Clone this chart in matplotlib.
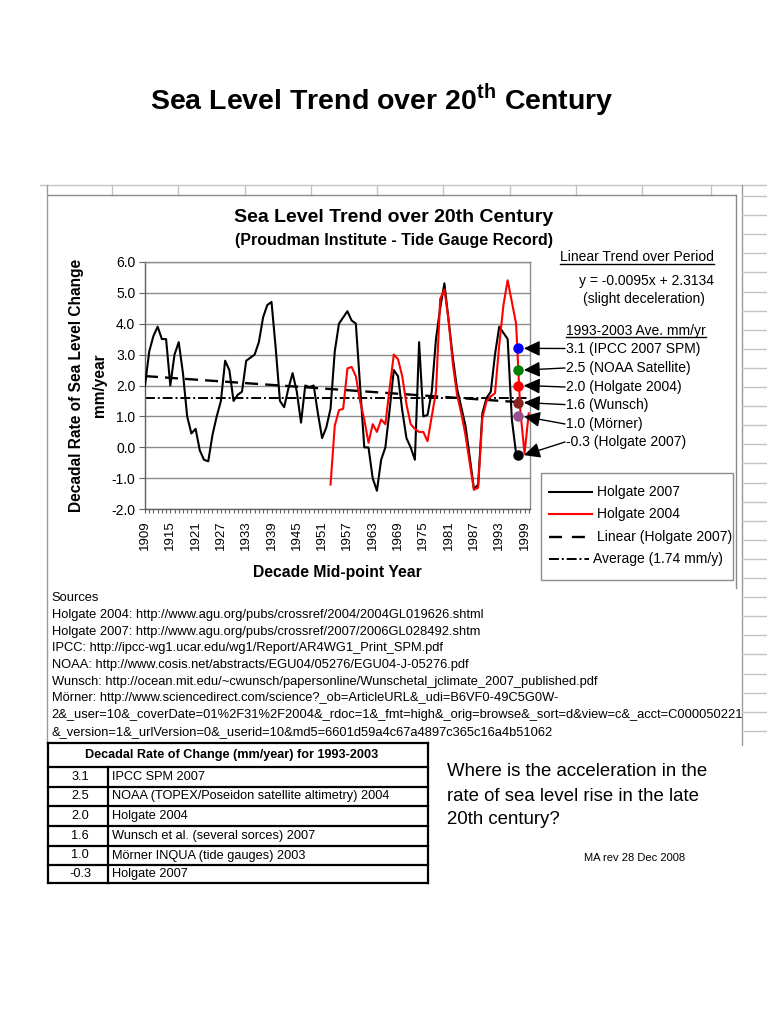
import matplotlib
matplotlib.use('Agg')
import matplotlib.pyplot as plt
from matplotlib.lines import Line2D
from matplotlib.patches import Rectangle
import numpy as np

plt.rcParams['font.family'] = ['Liberation Sans', 'DejaVu Sans']
plt.rcParams['mathtext.fontset'] = 'custom'
plt.rcParams['mathtext.rm'] = 'Liberation Sans'
plt.rcParams['mathtext.bf'] = 'Liberation Sans:bold'

# ---------------- data ----------------
years_h07 = list(range(1909, 1998))
holgate2007 = [2.0, 3.1, 3.6, 3.9, 3.5, 3.5, 2.0, 3.0, 3.4, 2.4,
               1.0, 0.45, 0.6, -0.1, -0.4, -0.45, 0.4, 1.0, 1.5, 2.8,
               2.5, 1.5, 1.7, 1.8, 2.8, 2.9, 3.0, 3.4, 4.2, 4.6,
               4.7, 3.2, 1.5, 1.3, 1.9, 2.4, 1.8, 0.8, 2.0, 1.95,
               2.0, 1.1, 0.3, 0.65, 1.25, 3.1, 4.0, 4.2, 4.4, 4.1,
               4.0, 2.0, 0.0, 0.0, -1.0, -1.4, -0.4, 0.0, 1.2, 2.5,
               2.3, 1.2, 0.3, 0.0, -0.4, 3.4, 1.0, 1.05, 1.8, 3.5,
               4.5, 5.3, 4.1, 2.9, 1.9, 1.3, 0.7, -0.3, -1.35, -1.2,
               1.1, 1.6, 1.8, 3.0, 3.9, 3.7, 3.5, 0.9, -0.2]
years_h04 = list(range(1953, 2001))
holgate2004 = [-1.2, 0.7, 1.2, 1.25, 2.55, 2.6, 2.3, 1.5, 0.9, 0.15,
               0.75, 0.5, 0.9, 0.75, 1.9, 3.0, 2.85, 2.3, 1.4, 0.75,
               0.6, 0.5, 0.5, 0.2, 1.0, 1.8, 4.8, 5.1, 4.1, 2.7,
               1.7, 1.1, 0.4, -0.5, -1.37, -1.3, 0.95, 1.5, 1.65, 1.75,
               3.3, 4.6, 5.4, 4.7, 4.0, 1.2, -0.2, 1.1]
trend_years = list(range(1909, 2001))
trend_slope = -0.0095
trend_intercept = 2.3134
average_value = 1.6

dot_year = 1997.5
dot_values = [3.2, 2.5, 2.0, 1.45, 1.0, -0.25]
dot_colors = ['#0000FF', '#008000', '#FF0000', '#8B2323', '#9B4F8F', '#000000']
dot_labels = ['3.1 (IPCC 2007 SPM)', '2.5 (NOAA Satellite)', '2.0 (Holgate 2004)',
              '1.6 (Wunsch)', '1.0 (M\u00f6rner)', '-0.3 (Holgate 2007)']

x_tick_years = list(range(1909, 2000, 6))
y_ticks = [-2.0, -1.0, 0.0, 1.0, 2.0, 3.0, 4.0, 5.0, 6.0]
y_tick_labels = ['-2.0', '-1.0', '0.0', '1.0', '2.0', '3.0', '4.0', '5.0', '6.0']

legend_labels = ['Holgate 2007', 'Holgate 2004', 'Linear (Holgate 2007)', 'Average (1.74 mm/y)']

table_values = ['3.1', '2.5', '2.0', '1.6', '1.0', '-0.3']
table_sources = ['IPCC SPM 2007', 'NOAA (TOPEX/Poseidon satellite altimetry) 2004', 'Holgate 2004',
                 'Wunsch et al. (several sorces) 2007', 'M\u00f6rner INQUA (tide gauges) 2003', 'Holgate 2007']

sources_lines = [
    'Sources',
    'Holgate 2004: http://www.agu.org/pubs/crossref/2004/2004GL019626.shtml',
    'Holgate 2007: http://www.agu.org/pubs/crossref/2007/2006GL028492.shtm',
    'IPCC: http://ipcc-wg1.ucar.edu/wg1/Report/AR4WG1_Print_SPM.pdf',
    'NOAA: http://www.cosis.net/abstracts/EGU04/05276/EGU04-J-05276.pdf',
    'Wunsch: http://ocean.mit.edu/~cwunsch/papersonline/Wunschetal_jclimate_2007_published.pdf',
    'M\u00f6rner: http://www.sciencedirect.com/science?_ob=ArticleURL&_udi=B6VF0-49C5G0W-',
    '2&_user=10&_coverDate=01%2F31%2F2004&_rdoc=1&_fmt=high&_orig=browse&_sort=d&view=c&_acct=C000050221',
    '&_version=1&_urlVersion=0&_userid=10&md5=6601d59a4c67a4897c365c16a4b51062',
]

question_lines = ['Where is the acceleration in the', 'rate of sea level rise in the late', '20th century?']

# ---------------- figure ----------------
W, H = 767, 1024
fig = plt.figure(figsize=(W / 100, H / 100), dpi=100)
fig.patch.set_facecolor('white')
page = fig.add_axes([0, 0, 1, 1], zorder=0)
page.set_xlim(0, W)
page.set_ylim(H, 0)
page.axis('off')

grid_c = '#c4c4c4'
# spreadsheet background lines
page.plot([40, 767], [185, 185], color=grid_c, lw=1)
page.plot([47, 47], [185, 745], color='#9a9a9a', lw=1)
page.plot([742, 742], [185, 745], color='#9a9a9a', lw=1)
for cx in [112, 178, 245, 311, 377, 443, 510, 576, 642, 711]:
    page.plot([cx, cx], [185, 195], color=grid_c, lw=1)
ry = 196.0
while ry < 745:
    page.plot([742, 767], [ry, ry], color=grid_c, lw=1)
    ry += 19.1
# chart box
page.plot([48, 736], [195, 195], color='#8a8a8a', lw=1)
page.plot([736, 736], [195, 588], color='#8a8a8a', lw=1)

# main title
page.text(382, 100, r"Sea Level Trend over 20$^{\mathbf{th}}$ Century", ha='center', va='center',
          fontsize=20.5, fontweight='bold')
# chart titles
page.text(394, 217, 'Sea Level Trend over 20th Century', ha='center', va='center', fontsize=14, fontweight='bold')
page.text(394, 240, '(Proudman Institute - Tide Gauge Record)', ha='center', va='center', fontsize=11.5,
          fontweight='bold')
page.text(77, 385, 'Decadal Rate of Sea Level Change', ha='center', va='center', rotation=90,
          fontsize=11.2, fontweight='bold')
page.text(99, 385, 'mm/year', ha='center', va='center', rotation=90, fontsize=11.2, fontweight='bold')
page.text(337, 573, 'Decade Mid-point Year', ha='center', va='center', fontsize=11.3, fontweight='bold')

# ---------------- chart axes ----------------
ax_l, ax_r, ax_t, ax_b = 145, 530, 261.7, 509.3
ax = fig.add_axes([ax_l / W, 1 - ax_b / H, (ax_r - ax_l) / W, (ax_b - ax_t) / H], zorder=3)
ax.set_facecolor('white')
ax.set_xlim(1909, 2000.3)
ax.set_ylim(-2, 6)
ax.set_yticks(y_ticks)
ax.set_yticklabels(y_tick_labels, fontsize=10)
ax.set_xticks(x_tick_years)
ax.set_xticklabels([str(y) for y in x_tick_years], rotation=90, fontsize=9.5)
ax.set_xticks(trend_years, minor=True)
ax.tick_params(axis='x', which='both', direction='out', length=3, width=0.8, color='#606060', pad=5)
ax.tick_params(axis='y', which='major', direction='out', length=4, width=0.8, color='#606060', pad=3)
ax.yaxis.grid(True, color='#8c8c8c', lw=1)
ax.set_axisbelow(True)
for s in ax.spines.values():
    s.set_color('#8c8c8c')
    s.set_linewidth(1)
ax.spines['left'].set_color('#606060')
ax.spines['bottom'].set_color('#606060')

trend_vals = [trend_slope * (i + 1) + trend_intercept for i in range(len(trend_years))]
avg_vals = [average_value for _ in trend_years]

ax.plot(trend_years, trend_vals, color='black', lw=1.7, dashes=(5.5, 3), zorder=2)
ax.plot(trend_years, avg_vals, color='black', lw=1.4, dashes=(5.1, 1.5, 1.0, 1.5), zorder=2)
ax.plot(years_h07, holgate2007, color='black', lw=1.5, zorder=3)
ax.plot(years_h04, holgate2004, color='#FF0000', lw=1.5, zorder=4)
for v, c in zip(dot_values, dot_colors):
    ax.plot([dot_year], [v], marker='o', markersize=6.5, color=c, markeredgecolor=c, zorder=5,
            clip_on=False)

# annotation text on right
label_baselines = [352.7, 372.1, 391.1, 408.7, 428.1, 446.1]
label_centers = [348.5, 368.0, 387.0, 404.6, 424.0, 442.0]
for lab, yb in zip(dot_labels, label_baselines):
    page.text(566, yb, lab, ha='left', va='baseline', fontsize=10)
for v, yc in zip(dot_values, label_centers):
    ax.annotate('', xy=(dot_year + 1.35, v), xycoords='data', xytext=(565, yc), textcoords=page.transData,
                arrowprops=dict(arrowstyle='-|>,head_length=0.75,head_width=0.36', mutation_scale=13,
                                color='black', lw=1, shrinkA=0, shrinkB=0),
                annotation_clip=False, zorder=6)

t1 = page.text(714, 261, 'Linear Trend over Period', ha='right', va='baseline', fontsize=10)
page.text(714, 285, 'y = -0.0095x + 2.3134', ha='right', va='baseline', fontsize=10)
page.text(644, 303.3, '(slight deceleration)', ha='center', va='baseline', fontsize=10)
t2 = page.text(566, 334.5, '1993-2003 Ave. mm/yr', ha='left', va='baseline', fontsize=10)

# legend (manual)
page.add_patch(Rectangle((541, 473), 192, 107, facecolor='white', edgecolor='#8c8c8c', lw=1, zorder=2))
page.add_line(Line2D([549, 592], [492, 492], color='black', lw=1.5, zorder=3))
page.add_line(Line2D([549, 592], [514, 514], color='#FF0000', lw=1.5, zorder=3))
page.add_line(Line2D([549, 586], [537, 537], color='black', lw=1.7, dashes=(5.5, 4.2), zorder=3))
page.add_line(Line2D([549, 589], [559, 559], color='black', lw=1.4, dashes=(5.1, 1.5, 1.0, 1.5), zorder=3))
for lab, yy, xx in zip(legend_labels, [492, 514, 537, 559], [597, 597, 597, 593]):
    page.text(xx, yy, lab, ha='left', va='center', fontsize=10, zorder=4)

# sources
for i, line in enumerate(sources_lines):
    page.text(51.5, 598.3 + 16.7 * i, line, ha='left', va='center', fontsize=9.3)

# table
tl, tdiv, tr = 48, 108.3, 428.3
row_edges = [743.3, 766.7, 786.7, 806.0, 826.0, 846.0, 865.0, 883.3]
for ye in row_edges:
    page.plot([tl, tr], [ye, ye], color='black', lw=1.6, solid_capstyle='projecting')
page.plot([tl, tl], [row_edges[0], row_edges[-1]], color='black', lw=1.6)
page.plot([tr, tr], [row_edges[0], row_edges[-1]], color='black', lw=1.6)
page.plot([tdiv, tdiv], [row_edges[1], row_edges[-1]], color='black', lw=1.6)
page.text(232, 755, 'Decadal Rate of Change (mm/year) for 1993-2003', ha='center', va='center',
          fontsize=9.1, fontweight='bold')
for i, (v, s) in enumerate(zip(table_values, table_sources)):
    yc = (row_edges[i + 1] + row_edges[i + 2]) / 2
    page.text(80, yc, v, ha='center', va='center', fontsize=9.2)
    page.text(111.7, yc, s, ha='left', va='center', fontsize=9.2)

# question text
for line, yc in zip(question_lines, [771.7, 796.7, 820.0]):
    page.text(447, yc, line, ha='left', va='center', fontsize=13.4)
page.text(635, 858, 'MA rev 28 Dec 2008', ha='center', va='center', fontsize=8)

# underlines
fig.canvas.draw()
r = fig.canvas.get_renderer()
for t, yb in [(t1, 263.5), (t2, 337.3)]:
    bb = t.get_window_extent(r)
    page.plot([bb.x0, bb.x1], [yb, yb], color='black', lw=1)

fig.savefig('out.png', dpi=100, facecolor='white')
